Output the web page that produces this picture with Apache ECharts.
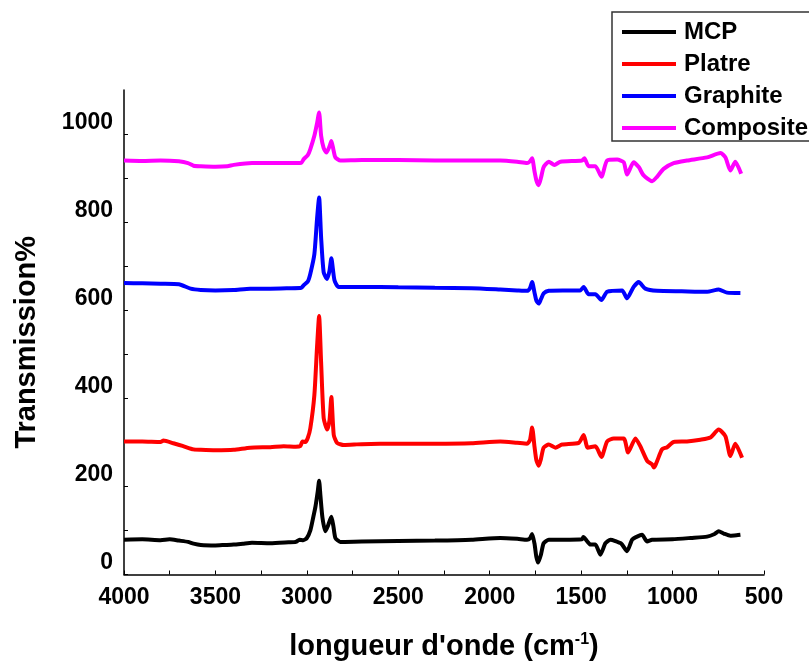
<!DOCTYPE html>
<html>
<head>
<meta charset="utf-8">
<script src="https://cdn.jsdelivr.net/npm/echarts@6/dist/echarts.min.js"></script>
<style>html,body{margin:0;padding:0;background:#fff;}#c{width:809px;height:666px;}</style>
</head>
<body>
<div id="c"></div>
<script>
// ---- data ----
var seriesNames = ['MCP', 'Platre', 'Graphite', 'Composite'];
var xTickLabels = [4000, 3500, 3000, 2500, 2000, 1500, 1000, 500];
var yTickLabels = [0, 200, 400, 600, 800, 1000];

var mcpWn = [4000,3900,3800,3750,3700,3650,3620,3580,3500,3450,3400,3350,3300,3200,3100,3060,3040,3020,3000,2981,2965,2953,2940,2933,2926,2915,2899,2885,2866,2855,2844,2817,2700,2500,2300,2100,1942,1850,1796,1780,1768,1755,1745,1735,1720,1705,1677,1600,1495,1488,1470,1449,1422,1395,1367,1340,1313,1280,1249,1221,1194,1167,1139,1112,1000,900,811,770,748,720,684,650,629];
var mcpT  = [79,80,78,80,77,74,70,67,66,67,68,70,72,71,73,74,79,78,83,100,130,154,190,213,180,130,98,110,131,110,83,74,75,76,77,79,83,81,79,82,92,70,40,27,45,71,79,79,80,85,77,68,68,45,71,79,76,70,53,79,86,90,75,79,80,83,86,92,98,93,88,89,90];

var platreWn = [4000,3900,3800,3784,3730,3680,3620,3580,3500,3400,3310,3200,3127,3060,3035,3024,3008,2995,2981,2959,2944,2933,2922,2908,2889,2876,2866,2853,2835,2798,2700,2500,2300,2100,1942,1850,1796,1780,1768,1755,1745,1732,1720,1705,1677,1641,1604,1513,1486,1464,1422,1389,1358,1322,1267,1243,1203,1176,1139,1112,1103,1058,1030,994,921,848,793,748,711,684,657,620];
var platreT  = [302,302,301,304,298,292,284,283,282,283,288,289,291,290,292,302,301,310,332,407,519,587,481,355,329,350,403,317,299,294,296,297,297,298,302,299,297,305,334,290,260,247,262,288,295,288,295,299,317,288,291,267,302,309,309,277,309,291,258,250,243,284,289,301,302,306,311,329,314,269,297,265];

var graphiteWn = [4000,3900,3800,3700,3636,3580,3500,3400,3310,3200,3100,3030,3017,2995,2981,2959,2944,2933,2922,2908,2889,2876,2866,2849,2826,2700,2500,2300,2100,1942,1850,1796,1780,1768,1755,1745,1732,1720,1705,1677,1600,1505,1486,1459,1422,1389,1358,1276,1249,1213,1185,1149,1085,950,811,748,702,629];
var graphiteT  = [662,661,660,659,649,646,645,646,649,649,650,651,657,665,683,727,809,856,765,686,671,690,718,668,653,653,652,651,650,647,645,644,650,664,640,622,615,625,638,644,645,645,653,636,636,623,642,645,627,653,664,649,644,643,642,647,640,639];

var compositeWn = [4000,3900,3800,3700,3650,3620,3580,3500,3435,3400,3300,3200,3100,3030,3017,2995,2981,2959,2944,2933,2922,2908,2893,2876,2866,2855,2844,2817,2700,2500,2300,2100,1942,1850,1796,1780,1768,1755,1745,1732,1720,1705,1677,1646,1613,1495,1482,1459,1422,1389,1358,1303,1267,1249,1213,1185,1158,1112,1085,1049,994,921,811,738,711,684,657,625];
var compositeT  = [940,939,940,938,934,928,927,926,927,930,934,934,934,935,943,952,966,996,1025,1049,996,968,958,972,984,965,947,940,941,941,940,940,940,937,934,938,945,915,895,884,900,925,937,930,937,940,945,927,927,903,940,942,936,908,936,925,906,893,903,921,934,940,947,957,947,917,937,910];

var colors = ['#000000', '#ff0000', '#0000ff', '#ff00ff'];

function pairs(xs, ys) { return xs.map(function (x, i) { return [x, ys[i]]; }); }
var allData = [pairs(mcpWn, mcpT), pairs(platreWn, platreT), pairs(graphiteWn, graphiteT), pairs(compositeWn, compositeT)];

var FONT = '"Liberation Sans", Arial, Helvetica, sans-serif';
var chart = echarts.init(document.getElementById('c'), null, {renderer: 'canvas'});
chart.setOption({
  animation: false,
  backgroundColor: '#ffffff',
  color: colors,
  textStyle: {fontFamily: FONT},
  grid: {left: 124, right: 45, top: 90, bottom: 84},
  legend: {
    orient: 'vertical',
    left: 612, top: 12,
    padding: [8, 20, 1, 10],
    itemGap: 8,
    itemWidth: 54, itemHeight: 4,
    icon: 'rect',
    borderColor: '#333', borderWidth: 1.5,
    textStyle: {fontFamily: FONT, fontSize: 24, fontWeight: 'bold', color: '#000', lineHeight: 24, padding: [0, 0, 0, 3]},
    data: seriesNames
  },
  xAxis: {
    type: 'value', inverse: true, min: 500, max: 4000, interval: 250,
    name: "longueur d'onde (cm{sup|-1})",
    nameLocation: 'middle', nameGap: 57,
    nameTextStyle: {fontFamily: FONT, fontSize: 29, fontWeight: 'bold', color: '#000',
      rich: {sup: {fontFamily: FONT, fontSize: 16, fontWeight: 'bold', color: '#000', verticalAlign: 'top', padding: [0, 0, 14, 0]}}},
    axisLine: {show: true, lineStyle: {color: '#000', width: 1.5}},
    axisTick: {show: true, inside: true, length: 4, lineStyle: {color: '#000', width: 1}},
    axisLabel: {fontFamily: FONT, fontSize: 23, fontWeight: 'bold', color: '#000', margin: 12,
      formatter: function (v) { return xTickLabels.indexOf(v) >= 0 ? String(v) : ''; }},
    splitLine: {show: false}
  },
  yAxis: {
    type: 'value', min: 0, max: 1100, interval: 100,
    name: 'Transmission%',
    nameLocation: 'middle', nameGap: 83,
    nameTextStyle: {fontFamily: FONT, fontSize: 29, fontWeight: 'bold', color: '#000', padding: [0, 20, 0, 0]},
    axisLine: {show: true, lineStyle: {color: '#000', width: 1.5}},
    axisTick: {show: true, inside: true, length: 4, lineStyle: {color: '#000', width: 1}},
    axisLabel: {fontFamily: FONT, fontSize: 23, fontWeight: 'bold', color: '#000', margin: 11,
      showMaxLabel: false, verticalAlign: 'bottom', lineHeight: 23,
      formatter: function (v) { return yTickLabels.indexOf(v) >= 0 ? String(v) : ''; }},
    splitLine: {show: false}
  },
  series: seriesNames.map(function (n, i) {
    return {
      name: n, type: 'line', data: allData[i],
      showSymbol: false, symbol: 'none',
      lineStyle: {width: 4, color: colors[i]},
      smooth: 0.2
    };
  })
});
</script>
</body>
</html>
